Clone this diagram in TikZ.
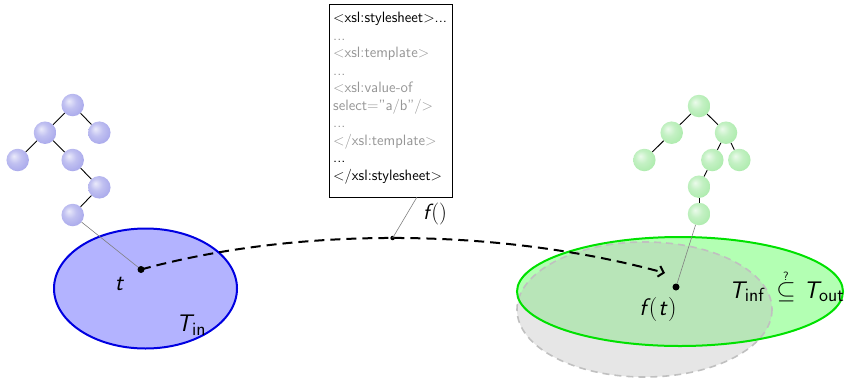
\documentclass[tikz,border=0pt]{standalone}
\usetikzlibrary{arrows.meta,shadings}
\definecolor{bcol}{RGB}{172,172,236}
\definecolor{gcol}{RGB}{176,236,176}
\definecolor{infill}{RGB}{179,179,255}
\definecolor{inborder}{RGB}{0,0,225}
\definecolor{outfill}{RGB}{179,255,179}
\definecolor{outborder}{RGB}{0,225,0}
\definecolor{shadegray}{RGB}{192,192,192}
\definecolor{cgray}{RGB}{150,150,150}
\pgfdeclareradialshading{blueball}{\pgfpoint{-9bp}{9bp}}{color(0bp)=(bcol!25!white); color(14bp)=(bcol!75!white); color(28bp)=(bcol); color(50bp)=(bcol!85!black)}
\pgfdeclareradialshading{greenball}{\pgfpoint{-9bp}{9bp}}{color(0bp)=(gcol!25!white); color(14bp)=(gcol!75!white); color(28bp)=(gcol); color(50bp)=(gcol!85!black)}
\newcommand{\sfit}[1]{{\sffamily\itshape #1}}
\newcommand{\Tsub}[1]{\sfit{T}\kern0.3pt\raisebox{-3.5pt}{\fontsize{19}{19}\selectfont\sffamily #1}}
\newcommand{\codefont}{\sffamily\fontsize{15}{17.5}\selectfont}
\begin{document}
\begin{tikzpicture}[x=1pt,y=-1pt,
  bball/.style={circle, minimum size=22.5pt, inner sep=0pt, shading=blueball},
  gball/.style={circle, minimum size=22.5pt, inner sep=0pt, shading=greenball},
  tedge/.style={black, line width=0.9pt},
  lead/.style={gray, line width=0.6pt},
  dotpt/.style={circle, fill=black, inner sep=0pt, minimum size=7pt},
  smalldot/.style={circle, fill=black, inner sep=0pt, minimum size=4.5pt},
  biglabel/.style={font=\fontsize{24}{24}\selectfont, inner sep=0pt}]
\useasboundingbox (0,0) rectangle (845,378);

% --- input set
\draw[fill=infill, draw=inborder, line width=2pt] (145.5,288.5) ellipse [x radius=91.5, y radius=60];

% --- output sets
\fill[outfill] (680,291.5) ellipse [x radius=163, y radius=54.5];
\draw[fill=shadegray, fill opacity=0.4, draw=shadegray, line width=1.6pt, dash pattern=on 7pt off 5pt] (644.5,309.5) ellipse [x radius=127.5, y radius=67.5];
\draw[outborder, line width=2pt] (680,291.5) ellipse [x radius=163, y radius=54.5];

% --- left tree
\node[bball] (a1) at (72.7,105) {};
\node[bball] (a2) at (45,132.7) {};
\node[bball] (a3) at (99.3,132.7) {};
\node[bball] (a4) at (17.7,160) {};
\node[bball] (a5) at (72.7,160) {};
\node[bball] (a6) at (99.3,187.3) {};
\node[bball] (a7) at (72.7,215) {};
\draw[tedge] (a1) -- (a2);
\draw[tedge] (a1) -- (a3);
\draw[tedge] (a2) -- (a4);
\draw[tedge] (a2) -- (a5);
\draw[tedge] (a5) -- (a6);
\draw[tedge] (a6) -- (a7);

% --- right tree
\node[gball] (b1) at (699,106) {};
\node[gball] (b2) at (671.7,132.7) {};
\node[gball] (b3) at (726,132.7) {};
\node[gball] (b4) at (644.3,160) {};
\node[gball] (b5) at (712.3,160) {};
\node[gball] (b6) at (739.3,160) {};
\node[gball] (b7) at (699,186.7) {};
\node[gball] (b8) at (699,214) {};
\draw[tedge] (b1) -- (b2);
\draw[tedge] (b1) -- (b3);
\draw[tedge] (b2) -- (b4);
\draw[tedge] (b3) -- (b5);
\draw[tedge] (b3) -- (b6);
\draw[tedge] (b5) -- (b7);
\draw[tedge] (b7) -- (b8);

% --- points
\node[dotpt] (t) at (141,269.5) {};
\node[dotpt] (ft) at (676,287) {};
\coordinate (arrend) at (665,273);
\draw[lead] (a7) -- (t);
\draw[lead] (b8) -- (ft);

% --- transformation arrow
\draw[line width=2pt, dash pattern=on 10pt off 6pt, -{Straight Barb[length=5pt,width=11pt]}]
  (t.center) .. controls (300,226) and (500,228) .. (arrend)
  node[smalldot, pos=0.485] (fdot) {};

% --- code box
\node[draw, line width=0.8pt, anchor=north west, minimum width=123pt, minimum height=193pt, inner sep=0pt] (code) at (329,4) {};
\node[anchor=north west, align=left, inner sep=0pt, font=\codefont] (codetxt) at (333,12)
 {<xsl:stylesheet>...\\
  \textcolor{cgray}{...}\\
  \textcolor{cgray}{<xsl:template>}\\
  \textcolor{cgray}{...}\\
  \textcolor{cgray}{<xsl:value-of}\\
  \textcolor{cgray}{select="a/b"/>}\\
  \textcolor{cgray}{...}\\
  \textcolor{cgray}{</xsl:template>}\\
  ...\\
  </xsl:stylesheet>};
\coordinate (cb) at (417,197);
\draw[lead] (fdot.center) -- (cb);
\node[inner sep=0pt, font=\fontsize{22}{22}\selectfont] (flab) at (435,214) {\sfit{f}\kern2pt()};

% --- labels
\node[biglabel] (tlab) at (119,284) {\sfit{t}};
\node[biglabel] (tin) at (191,325) {\Tsub{in}};
\node[biglabel] (ftlab) at (658,310) {\sfit{f}\kern2.5pt(\kern1pt\sfit{t}\kern1.5pt)};
\node[biglabel, anchor=base west] (tinf) at (729,298) {\Tsub{inf}};
\node[biglabel, anchor=base] (subs) at (786,298) {$\stackrel{\mbox{\sffamily\fontsize{12}{12}\selectfont ?}}{\subseteq}$};
\node[biglabel, anchor=base east] (tout) at (844,298) {\Tsub{out}};
\end{tikzpicture}
\end{document}
